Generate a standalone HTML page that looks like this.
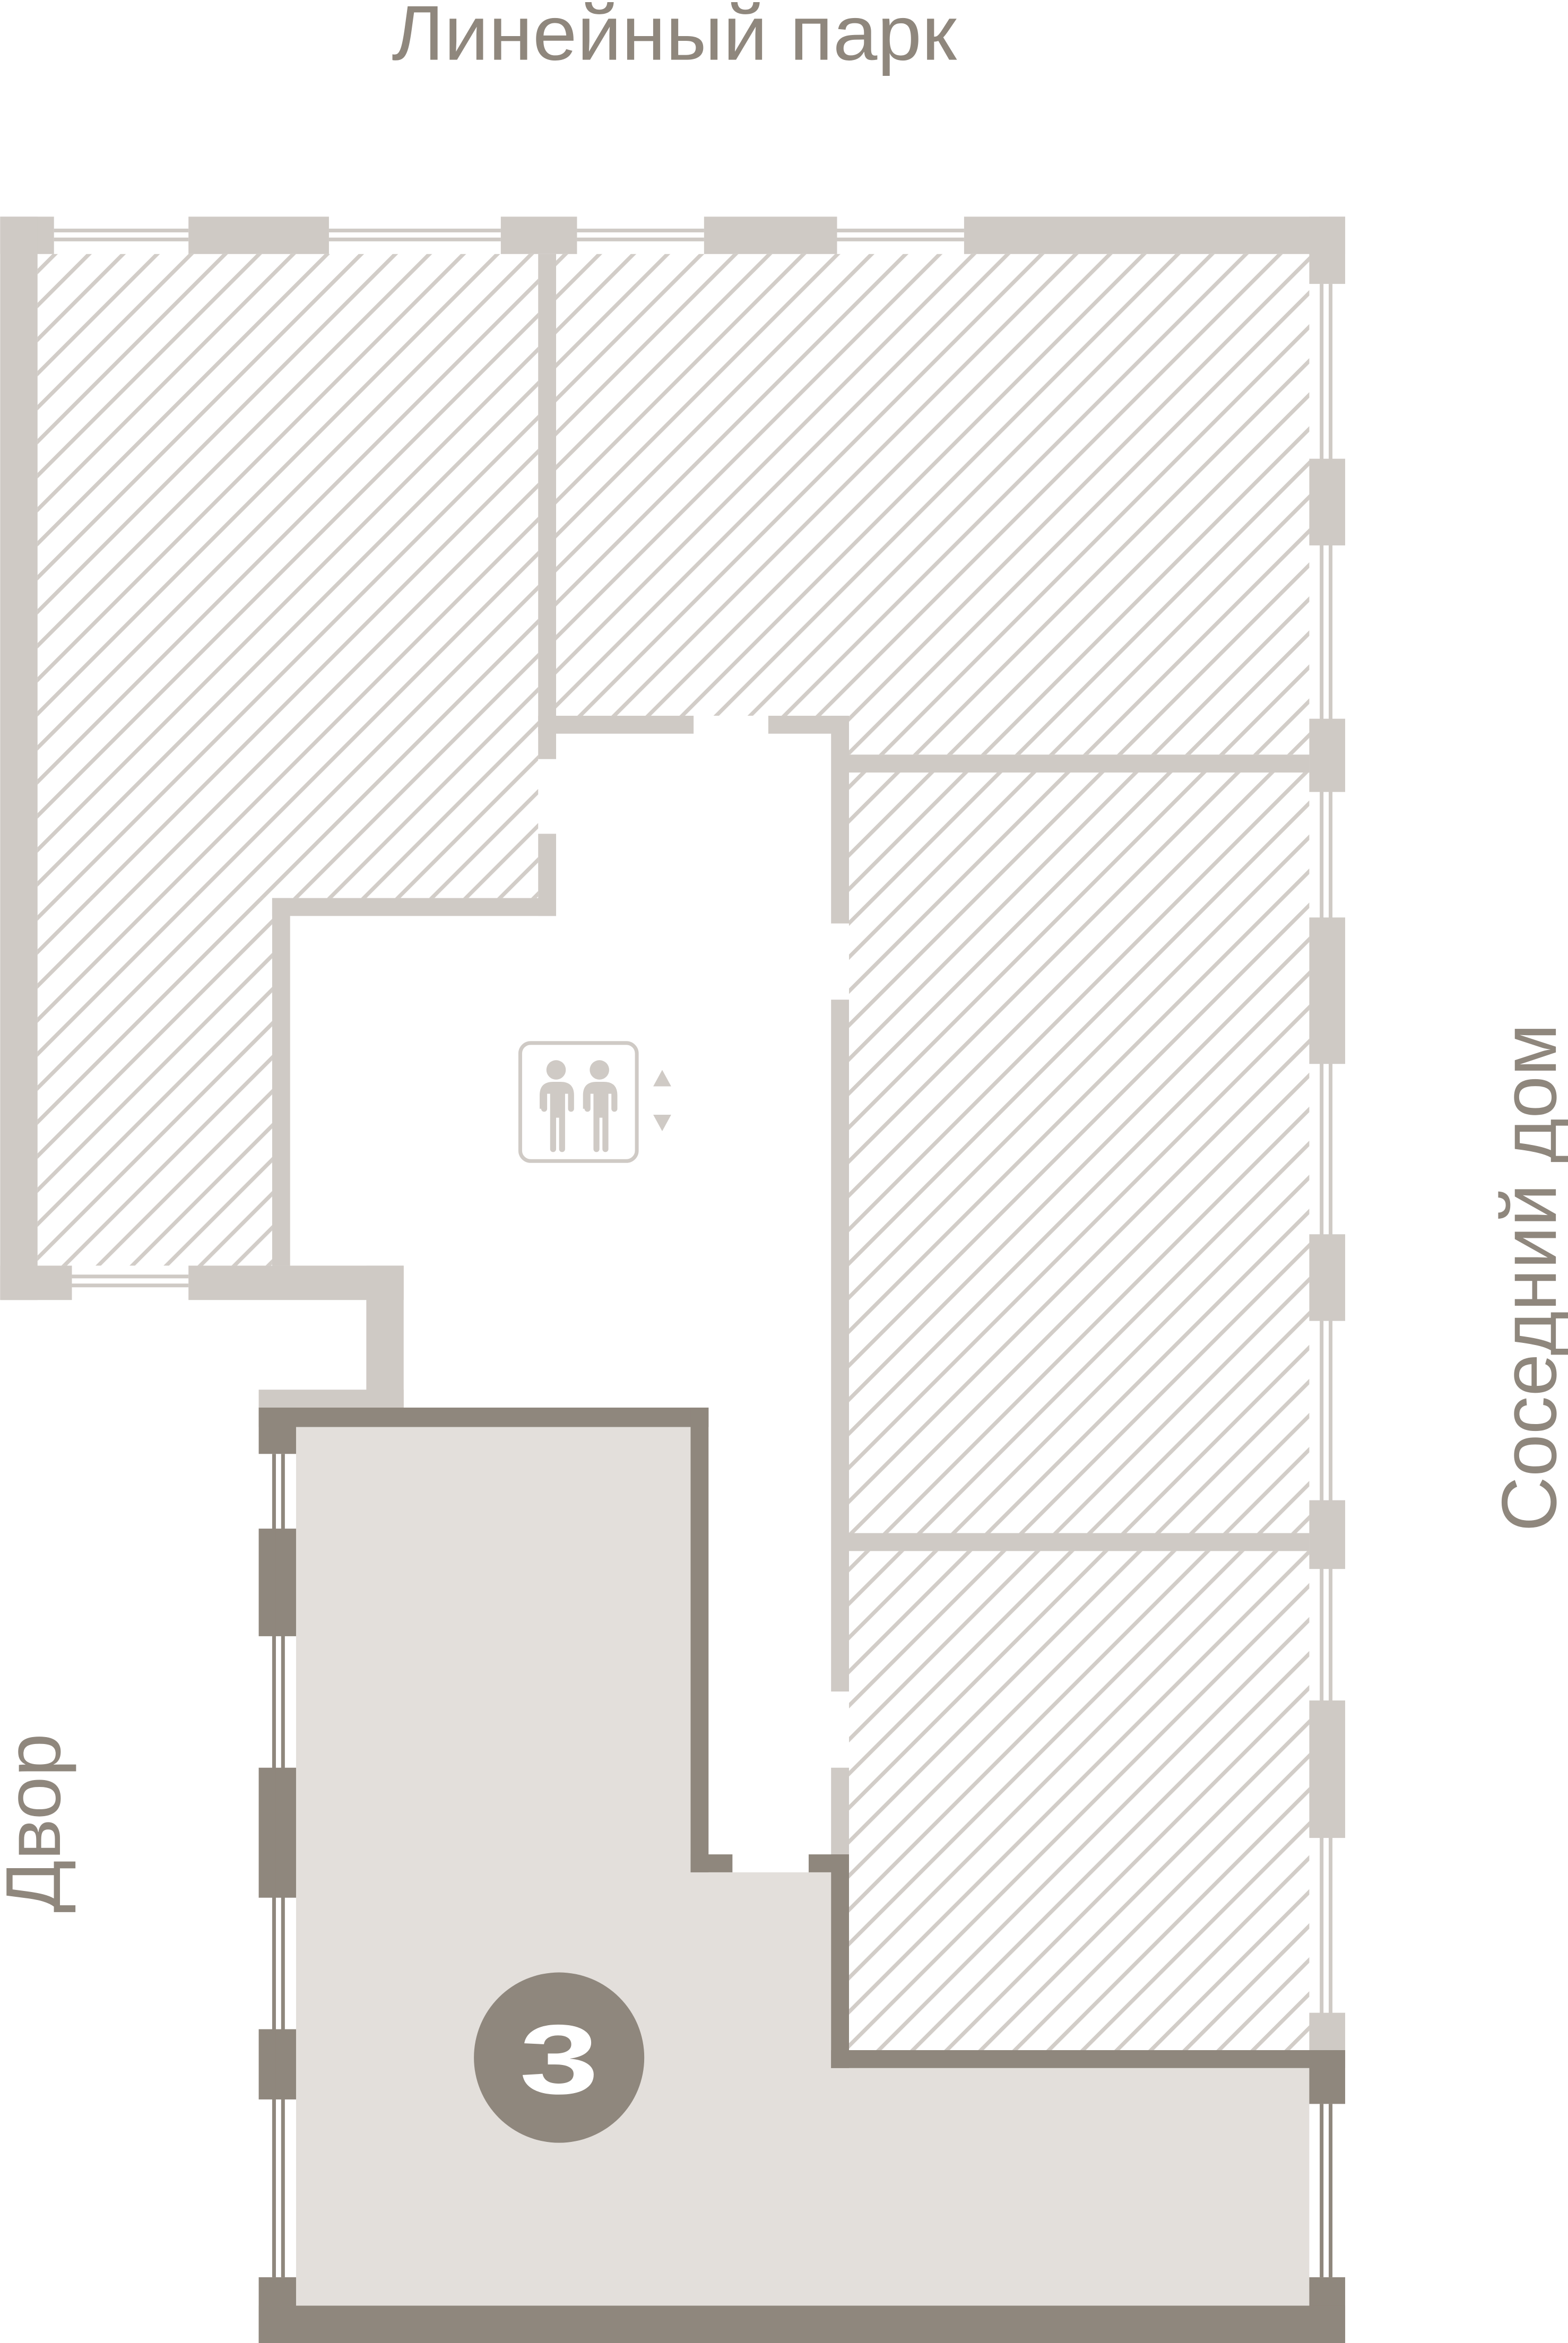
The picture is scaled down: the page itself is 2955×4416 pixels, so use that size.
<!DOCTYPE html>
<html><head><meta charset="utf-8"><style>
html,body{margin:0;padding:0;background:#fff;}
svg{display:block;}
text{font-family:"Liberation Sans",sans-serif;fill:#8f877d;}
</style></head><body>
<svg width="2955" height="4416" viewBox="0 0 1049 1568" xmlns="http://www.w3.org/2000/svg">
<defs>
<pattern id="h" patternUnits="userSpaceOnUse" width="16.1" height="16.1" patternTransform="rotate(45)">
<rect x="0" y="0" width="2.6" height="16.1" fill="#d2cdc8"/>
</pattern>
</defs>
<rect width="1049" height="1568" fill="#fff"/>
<text x="262" y="40" font-size="52" textLength="378" lengthAdjust="spacingAndGlyphs">Линейный парк</text>
<text transform="translate(1041,1025) rotate(-90)" font-size="52" textLength="340" lengthAdjust="spacingAndGlyphs">Соседний дом</text>
<text transform="translate(40,1280) rotate(-90)" font-size="52" textLength="120" lengthAdjust="spacingAndGlyphs">Двор</text>

<g fill="url(#h)">
<rect x="25" y="170" width="335" height="431"/>
<rect x="25" y="601" width="157" height="246"/>
<rect x="372" y="170" width="504" height="309"/>
<rect x="568" y="479" width="308" height="26"/>
<rect x="568" y="517" width="308" height="509"/>
<rect x="568" y="1038" width="308" height="334"/>
</g>
<rect x="372" y="479" width="184" height="26" fill="#fff"/>

<g fill="#cfcac5">
<rect x="0" y="145" width="36" height="25"/>
<rect x="126" y="145" width="94" height="25"/>
<rect x="335" y="145" width="51" height="25"/>
<rect x="471" y="145" width="89" height="25"/>
<rect x="645" y="145" width="255" height="25"/>
<rect x="36" y="153" width="90" height="2.5"/><rect x="36" y="159" width="90" height="2.5"/>
<rect x="220" y="153" width="115" height="2.5"/><rect x="220" y="159" width="115" height="2.5"/>
<rect x="386" y="153" width="85" height="2.5"/><rect x="386" y="159" width="85" height="2.5"/>
<rect x="560" y="153" width="85" height="2.5"/><rect x="560" y="159" width="85" height="2.5"/>
<rect x="0" y="145" width="25" height="725"/>
<rect x="876" y="145" width="24" height="45"/>
<rect x="883" y="190" width="2.5" height="1182"/><rect x="889" y="190" width="2.5" height="1182"/>
<rect x="876" y="307" width="24" height="58"/>
<rect x="876" y="481" width="24" height="49"/>
<rect x="876" y="614" width="24" height="98"/>
<rect x="876" y="826" width="24" height="58"/>
<rect x="876" y="1004" width="24" height="46"/>
<rect x="876" y="1138" width="24" height="92"/>
<rect x="876" y="1347" width="24" height="25"/>
<rect x="360" y="170" width="12" height="338"/>
<rect x="360" y="479" width="104" height="12"/>
<rect x="514" y="479" width="54" height="12"/>
<rect x="556" y="479" width="12" height="139"/>
<rect x="568" y="505" width="308" height="12"/>
<rect x="556" y="669" width="12" height="463"/>
<rect x="568" y="1026" width="308" height="12"/>
<rect x="556" y="1183" width="12" height="58"/>
<rect x="360" y="558" width="12" height="55"/>
<rect x="182" y="601" width="190" height="12"/>
<rect x="182" y="601" width="12" height="246"/>
<rect x="0" y="847" width="48" height="23"/>
<rect x="48" y="853" width="78" height="2.5"/><rect x="48" y="859" width="78" height="2.5"/>
<rect x="126" y="847" width="144" height="23"/>
<rect x="245" y="847" width="25" height="95"/>
<rect x="173" y="930" width="97" height="12"/>
</g>

<g fill="none" stroke="#cfcac5" stroke-width="2.5">
<rect x="348" y="698" width="78" height="79" rx="7"/>
</g>
<g fill="#cfcac5">
<circle cx="372" cy="716" r="6.5"/>
<path d="M361 742 v-9 q0-9 9-9 h5 q9 0 9 9 v9 a2 2 0 0 1 -4 0 v-10 h-2 v37 a2 2 0 0 1 -4 0 v-21 h-2 v21 a2 2 0 0 1 -4 0 v-37 h-2 v10 a2 2 0 0 1 -4 0z"/>
<circle cx="401" cy="716" r="6.5"/>
<path d="M390 742 v-9 q0-9 9-9 h5 q9 0 9 9 v9 a2 2 0 0 1 -4 0 v-10 h-2 v37 a2 2 0 0 1 -4 0 v-21 h-2 v21 a2 2 0 0 1 -4 0 v-37 h-2 v10 a2 2 0 0 1 -4 0z"/>
<path d="M443 716 l6 11 h-12z"/>
<path d="M437 746 h12 l-6 11z"/>
</g>

<path d="M198 955 H462 V1253 H556 V1384 H876 V1543 H198Z" fill="#e3dfdb"/>
<g fill="#8f877d">
<rect x="173" y="942" width="301" height="13"/>
<rect x="462" y="942" width="12" height="311"/>
<rect x="462" y="1241" width="28" height="12"/>
<rect x="541" y="1241" width="27" height="12"/>
<rect x="556" y="1241" width="12" height="143"/>
<rect x="556" y="1372" width="344" height="12"/>
<rect x="876" y="1372" width="24" height="36"/>
<rect x="876" y="1524" width="24" height="44"/>
<rect x="173" y="1543" width="727" height="25"/>
<rect x="173" y="942" width="25" height="31"/>
<rect x="173" y="1023" width="25" height="72"/>
<rect x="173" y="1183" width="25" height="87"/>
<rect x="173" y="1358" width="25" height="47"/>
<rect x="173" y="1524" width="25" height="44"/>
<rect x="182" y="973" width="2.5" height="551"/><rect x="188" y="973" width="2.5" height="551"/>
<rect x="883" y="1408" width="2.5" height="116"/><rect x="889" y="1408" width="2.5" height="116"/>
<circle cx="374" cy="1377" r="57"/>
</g>
<text x="374" y="1401" font-size="66" font-weight="bold" text-anchor="middle" style="fill:#fff" transform="translate(374 0) scale(1.45 1) translate(-374 0)">3</text>
</svg>
</body></html>
